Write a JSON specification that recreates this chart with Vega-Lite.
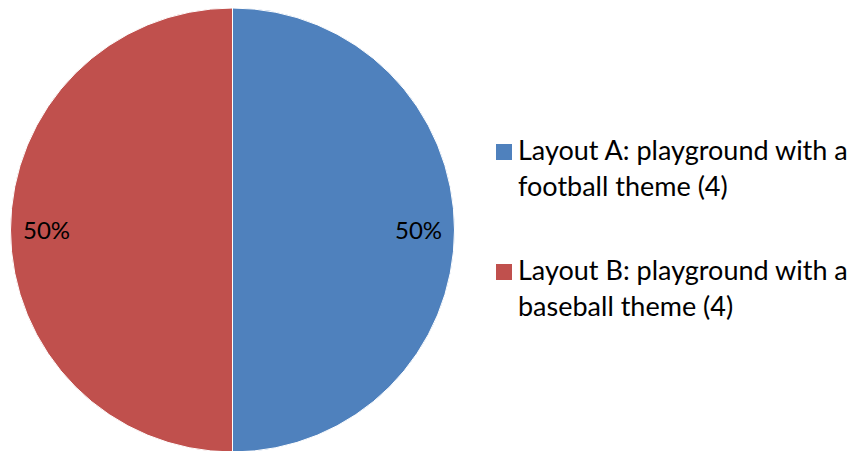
{
  "$schema": "https://vega.github.io/schema/vega-lite/v6.json",
  "width": 856,
  "height": 451,
  "autosize": "none",
  "padding": 0,
  "background": "white",
  "config": {"view": {"stroke": null}, "font": "Lato"},
  "data": {"values": [
    {"layout": "Layout A: playground with a\nfootball theme (4)", "count": 4, "pct": "50%"},
    {"layout": "Layout B: playground with a\nbaseball theme (4)", "count": 4, "pct": "50%"}
  ]},
  "layer": [
    {
      "mark": {"type": "arc", "outerRadius": 222, "x": 232.5, "y": 230, "stroke": "white", "strokeWidth": 1},
      "encoding": {
        "theta": {"field": "count", "type": "quantitative", "stack": true},
        "color": {"field": "layout", "type": "nominal", "scale": {"range": ["#4F81BD", "#C0504D"]}, "legend": null}
      }
    },
    {
      "mark": {"type": "text", "radius": 186, "x": 232.5, "y": 232, "fontSize": 24, "font": "Lato", "color": "#000000"},
      "encoding": {
        "theta": {"field": "count", "type": "quantitative", "stack": true},
        "text": {"field": "pct"}
      }
    },
    {
      "mark": {"type": "square", "x": 504, "size": 256, "filled": true, "opacity": 1, "strokeWidth": 0},
      "encoding": {
        "y": {"field": "layout", "type": "nominal", "scale": {"type": "point", "range": [152, 272], "padding": 0}, "axis": null},
        "color": {"field": "layout", "type": "nominal", "legend": null}
      }
    },
    {
      "mark": {"type": "text", "x": 518, "dy": 8, "align": "left", "baseline": "alphabetic", "fontSize": 27, "font": "Lato", "color": "#000000", "lineBreak": "\n", "lineHeight": 36},
      "encoding": {
        "y": {"field": "layout", "type": "nominal"},
        "text": {"field": "layout"}
      }
    }
  ]
}
